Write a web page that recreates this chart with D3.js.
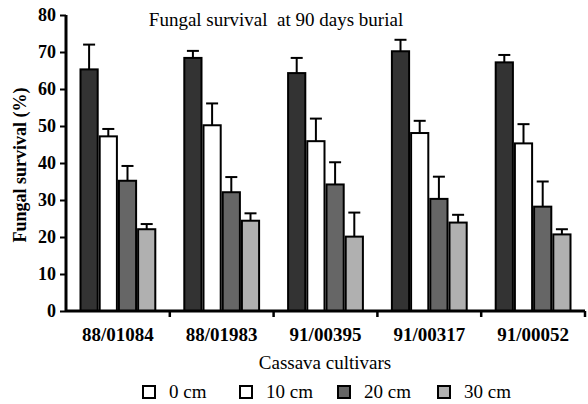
<!DOCTYPE html>
<html><head><meta charset="utf-8">
<script src="https://cdn.jsdelivr.net/npm/d3@7"></script>
<style>body{margin:0;background:#fff}svg{display:block}</style>
</head><body><svg id="c" width="588" height="404"></svg>
<script>
const cultivars = ["88/01084","88/01983","91/00395","91/00317","91/00052"];
const depths = ["0 cm","10 cm","20 cm","30 cm"];
const barColors = ["#333333","#ffffff","#666666","#b0b0b0"];
const legendColors = ["#ffffff","#ffffff","#666666","#b0b0b0"];
const mean0  = [65.3, 68.4, 64.3, 70.2, 67.2];
const err0   = [72.0, 70.3, 68.4, 73.3, 69.2];
const mean10 = [47.2, 50.2, 45.9, 48.1, 45.3];
const err10  = [49.2, 56.1, 52.0, 51.4, 50.5];
const mean20 = [35.2, 32.1, 34.2, 30.3, 28.2];
const err20  = [39.2, 36.2, 40.2, 36.3, 35.0];
const mean30 = [22.1, 24.4, 20.1, 23.9, 20.7];
const err30  = [23.5, 26.4, 26.6, 26.0, 22.1];
const yTicks = [0,10,20,30,40,50,60,70,80];

const means = [mean0, mean10, mean20, mean30];
const errs = [err0, err10, err20, err30];
const FONT = '"Liberation Serif"';

const svg = d3.select("#c");
const L = 66, R = 585, T = 15, B = 311;
const x0 = d3.scaleBand().domain(cultivars).range([L, R]).paddingInner(0).paddingOuter(0);
const x1 = d3.scaleBand().domain(depths).range([13.5, x0.bandwidth() - 13.5]);
const y = d3.scaleLinear().domain([0, 80]).range([B, T]);

const g = svg.append("g");
cultivars.forEach((c, i) => {
  const grp = g.append("g").attr("transform", `translate(${x0(c)},0)`);
  depths.forEach((d, j) => {
    const bx = x1(d), bw = x1.bandwidth();
    const cx = bx + bw / 2;
    grp.append("line").attr("x1", cx).attr("x2", cx)
      .attr("y1", y(means[j][i])).attr("y2", y(errs[j][i]))
      .attr("stroke", "#000").attr("stroke-width", 2);
    grp.append("line").attr("x1", cx - 6).attr("x2", cx + 6)
      .attr("y1", y(errs[j][i])).attr("y2", y(errs[j][i]))
      .attr("stroke", "#000").attr("stroke-width", 2);
    grp.append("rect").attr("x", bx + 1).attr("width", bw - 2)
      .attr("y", y(means[j][i])).attr("height", y(0) - y(means[j][i]))
      .attr("fill", barColors[j]).attr("stroke", "#000").attr("stroke-width", 2);
  });
});

// y axis
const yAxis = svg.append("g").attr("transform", `translate(${L},0)`)
  .call(d3.axisLeft(y).tickValues(yTicks).tickSize(6).tickPadding(4));
yAxis.attr("font-family", "Liberation Serif");
yAxis.select(".domain").attr("stroke-width", 3).attr("d", `M0,${T}V${B}`);
yAxis.selectAll(".tick line").attr("stroke-width", 2);
yAxis.selectAll(".tick text").style("font-size", "18px").style("font-weight", "bold")
  .style("font-family", FONT).attr("fill", "#000");

// x axis
const xAxis = svg.append("g").attr("transform", `translate(0,${B})`)
  .call(d3.axisBottom(x0).tickSize(0).tickPadding(17));
xAxis.attr("font-family", "Liberation Serif");
xAxis.select(".domain").attr("stroke-width", 3).attr("d", `M${L},0H${R}`);
xAxis.selectAll(".tick text").style("font-size", "19px").style("font-weight", "bold")
  .style("font-family", FONT).attr("fill", "#000");
const bounds = cultivars.map(c => x0(c)).concat([R]);
svg.append("g").selectAll("line").data(bounds.slice(1)).join("line")
  .attr("x1", d => d).attr("x2", d => d).attr("y1", B).attr("y2", B + 6)
  .attr("stroke", "#000").attr("stroke-width", 2.5);

// title
svg.append("text").attr("x", 276).attr("y", 26).attr("text-anchor", "middle")
  .style("font-family", FONT).style("font-size", "19px").style("white-space", "pre")
  .text("Fungal survival  at 90 days burial");
// axis titles
svg.append("text").attr("transform", "translate(26,165) rotate(-90)")
  .attr("text-anchor", "middle").style("font-family", FONT).style("font-size", "18px")
  .style("font-weight", "bold").text("Fungal survival (%)");
svg.append("text").attr("x", 325).attr("y", 369).attr("text-anchor", "middle")
  .style("font-family", FONT).style("font-size", "19px").text("Cassava cultivars");

// legend
const legX = [143, 240, 338, 438];
depths.forEach((d, j) => {
  svg.append("rect").attr("x", legX[j]).attr("y", 386).attr("width", 12).attr("height", 12)
    .attr("fill", legendColors[j]).attr("stroke", "#000").attr("stroke-width", 2);
  svg.append("text").attr("x", legX[j] + 26).attr("y", 398)
    .style("font-family", FONT).style("font-size", "19px").text(d);
});
</script></body></html>
